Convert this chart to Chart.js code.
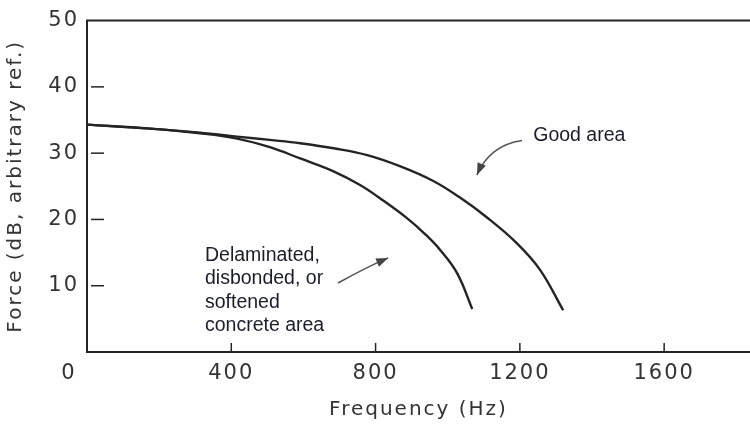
<!DOCTYPE html>
<html lang="en">
<head>
<meta charset="UTF-8">
<title>Force vs Frequency</title>
<script src="https://cdn.jsdelivr.net/npm/chart.js"></script>
<style>
  html, body { margin: 0; padding: 0; background: #fff; }
  #wrap { width: 750px; height: 424px; }
</style>
</head>
<body>
<div id="wrap"><canvas id="forceChart"></canvas></div>
<script>
// values
const freqGood = [0, 175, 313, 416, 507, 591, 688, 777, 869, 960, 1034, 1109, 1192, 1256, 1320];
const forceGood = [34.3, 33.7, 33.1, 32.5, 32.0, 31.5, 30.7, 29.7, 28.0, 25.8, 23.3, 20.3, 16.4, 12.4, 6.3];
const freqDelam = [0, 175, 313, 416, 507, 591, 682, 757, 812, 887, 937, 979, 1026, 1068];
const forceDelam = [34.3, 33.7, 33.0, 32.2, 30.9, 29.2, 27.3, 25.2, 23.2, 20.2, 17.8, 15.4, 11.9, 6.5];
const xTicks = [0, 400, 800, 1200, 1600];
const yTicks = [10, 20, 30, 40, 50];

// annotation text + arrows (data coordinates)
const goodLabel = { text: ['Good area'], x: 1237, y: 32.7 };
const goodArrow = [[1206, 31.9], [1117, 31.2], [1081, 26.7]];
const delamLabel = { text: ['Delaminated,', 'disbonded, or', 'softened', 'concrete area'], x: 327, y: 14.6 };
const delamArrow = [[696, 10.4], [771, 12.7], [835, 14.2]];

const ink = '#242424';
const scanFont = '"DejaVu Sans", sans-serif';

function toPts(data) {
  return data[0].map((v, i) => ({ x: v, y: data[1][i] }));
}

const extras = {
  id: 'extras',
  beforeLayout(chart) { chart.ctx.letterSpacing = '2px'; },
  beforeDraw(chart) { chart.ctx.letterSpacing = '2px'; },
  afterDraw(chart) {
    const ctx = chart.ctx;
    const xs = chart.scales.x, ys = chart.scales.y;
    const a = chart.chartArea;
    ctx.save();
    ctx.strokeStyle = ink;
    ctx.lineWidth = 2;
    // top frame line
    ctx.beginPath();
    ctx.moveTo(a.left - 1, a.top);
    ctx.lineTo(a.right, a.top);
    ctx.stroke();
    // inward tick marks
    ctx.lineWidth = 1.5;
    yTicks.slice(0, -1).forEach(v => {
      const py = ys.getPixelForValue(v);
      ctx.beginPath();
      ctx.moveTo(a.left + 4, py);
      ctx.lineTo(a.left + 17, py);
      ctx.stroke();
    });
    xTicks.slice(1).forEach(v => {
      const px = xs.getPixelForValue(v);
      ctx.beginPath();
      ctx.moveTo(px, a.bottom);
      ctx.lineTo(px, a.bottom - 9);
      ctx.stroke();
    });
    // corner zero
    ctx.fillStyle = '#333';
    ctx.font = '21px ' + scanFont;
    ctx.textAlign = 'center';
    ctx.textBaseline = 'middle';
    ctx.fillText('0', a.left - 18, a.bottom + 22);

    // annotations
    ctx.letterSpacing = '0px';
    ctx.fillStyle = '#1c1c2a';
    ctx.font = '19.5px "Liberation Sans", Arial, sans-serif';
    ctx.textAlign = 'left';
    [goodLabel, delamLabel].forEach(l => {
      const px = xs.getPixelForValue(l.x);
      const py = ys.getPixelForValue(l.y);
      l.text.forEach((t, i) => ctx.fillText(t, px, py + i * 23.5));
    });
    ctx.strokeStyle = '#555';
    ctx.fillStyle = '#444';
    ctx.lineWidth = 1.6;
    [goodArrow, delamArrow].forEach(arr => {
      const p = arr.map(q => [xs.getPixelForValue(q[0]), ys.getPixelForValue(q[1])]);
      ctx.beginPath();
      ctx.moveTo(p[0][0], p[0][1]);
      ctx.quadraticCurveTo(p[1][0], p[1][1], p[2][0], p[2][1]);
      ctx.stroke();
      const ang = Math.atan2(p[2][1] - p[1][1], p[2][0] - p[1][0]);
      const L = 12, W = 4.5;
      ctx.beginPath();
      ctx.moveTo(p[2][0], p[2][1]);
      ctx.lineTo(p[2][0] - L * Math.cos(ang) + W * Math.sin(ang), p[2][1] - L * Math.sin(ang) - W * Math.cos(ang));
      ctx.lineTo(p[2][0] - L * Math.cos(ang) - W * Math.sin(ang), p[2][1] - L * Math.sin(ang) + W * Math.cos(ang));
      ctx.closePath();
      ctx.fill();
    });
    ctx.restore();
  }
};

const lineStyle = {
  borderColor: ink,
  borderWidth: 2.4,
  pointRadius: 0,
  fill: false,
  tension: 0.4
};

new Chart(document.getElementById('forceChart'), {
  type: 'scatter',
  data: {
    datasets: [
      Object.assign({ label: 'Good area', data: toPts([freqGood, forceGood]), showLine: true }, lineStyle),
      Object.assign({ label: 'Delaminated, disbonded, or softened concrete area', data: toPts([freqDelam, forceDelam]), showLine: true }, lineStyle)
    ]
  },
  options: {
    responsive: true,
    maintainAspectRatio: false,
    animation: false,
    layout: { padding: { top: 20, right: 0, left: 0, bottom: 0 } },
    plugins: { legend: { display: false }, tooltip: { enabled: false } },
    scales: {
      x: {
        type: 'linear',
        min: 0,
        max: 1838,
        afterBuildTicks: s => { s.ticks = xTicks.map(v => ({ value: v })); },
        afterFit: s => { s.height = 72; },
        grid: { display: false, drawTicks: false },
        border: { display: true, color: ink, width: 2 },
        ticks: {
          padding: 9,
          color: '#333',
          font: { family: scanFont, size: 21 },
          maxRotation: 0,
          callback: v => (v === 0 ? '' : v)
        },
        title: {
          display: true,
          text: 'Frequency (Hz)',
          color: '#333',
          font: { family: scanFont, size: 20 },
          padding: { top: 0, bottom: 2 }
        }
      },
      y: {
        type: 'linear',
        min: 0,
        max: 50,
        afterBuildTicks: s => { s.ticks = yTicks.map(v => ({ value: v })); },
        afterFit: s => { s.width = 87; },
        grid: { display: false, drawTicks: false },
        border: { display: true, color: ink, width: 2 },
        ticks: {
          padding: 8,
          color: '#333',
          font: { family: scanFont, size: 21 }
        },
        title: {
          display: true,
          text: 'Force (dB, arbitrary ref.)',
          color: '#333',
          font: { family: scanFont, size: 20 },
          padding: { top: 4, bottom: 0 }
        }
      }
    }
  },
  plugins: [extras]
});
</script>
</body>
</html>
